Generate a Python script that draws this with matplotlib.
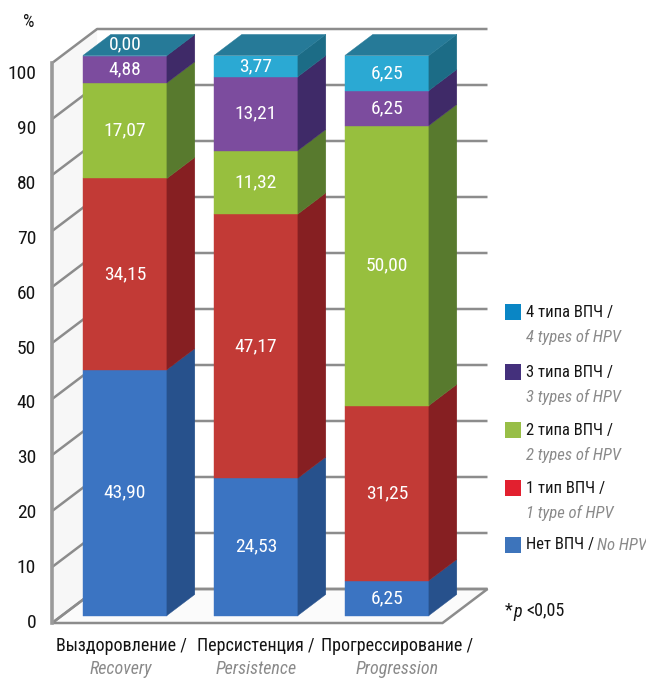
import matplotlib.pyplot as plt
from matplotlib import font_manager
from matplotlib.patches import Polygon, Rectangle

# stacked shares (%) per outcome, bottom to top
groups = ['Выздоровление /', 'Персистенция /', 'Прогрессирование /']
groups_en = ['Recovery', 'Persistence', 'Progression']
no_hpv = [43.90, 24.53, 6.25]
one_type = [34.15, 47.17, 31.25]
two_types = [17.07, 11.32, 50.00]
three_types = [4.88, 13.21, 6.25]
four_types = [0.00, 3.77, 6.25]

series = [no_hpv, one_type, two_types, three_types, four_types]
legend_ru = ['Нет ВПЧ /', '1 тип ВПЧ /', '2 типа ВПЧ /', '3 типа ВПЧ /', '4 типа ВПЧ /']
legend_en = ['No HPV', '1 type of HPV', '2 types of HPV', '3 types of HPV', '4 types of HPV']
yticks = list(range(0, 101, 10))

# front / side face colours of the 3d boxes, legend swatches
front = ['#3b74c2', '#c23a36', '#97bf3e', '#7c4c9e', '#2ba9d3']
side = ['#27518c', '#861f22', '#587a2e', '#3f2a68', '#1c6c86']
top_col = '#267a98'
swatch = ['#3d74bb', '#e2202f', '#98be47', '#44307c', '#0a86c5']

# prefer a narrow face if one is installed
installed = {f.name for f in font_manager.fontManager.ttflist}
narrow = [n for n in ['Liberation Sans Narrow', 'Roboto Condensed', 'Noto Sans Condensed',
                      'Open Sans Condensed', 'Arial Narrow'] if n in installed]
if narrow:
    plt.rcParams['font.family'] = [narrow[0], 'DejaVu Sans']
    fs_num, fs_cat, fs_leg = 14, 13, 12
else:
    plt.rcParams['font.family'] = ['Liberation Sans', 'DejaVu Sans']
    fs_num, fs_cat, fs_leg = 12, 10.5, 10

W, H = 646, 678
fig = plt.figure(figsize=(W / 100, H / 100), dpi=100)
ax = fig.add_axes([0, 0, 1, 1])
ax.set_xlim(-115 / 131, (W - 115) / 131)
ax.set_ylim((623 - H) / 5.6, 623 / 5.6)
ax.axis('off')

DX, DY = 45 / 131, 34 / 5.6      # full floor depth
bw = 84 / 131                     # bar width
f0, f1 = 0.22, 0.84               # bar front / back depth
xl, xr = -0.48, 2.5               # floor extent
grid = '#8c8c8c'
ink = '#141414'
grey_txt = '#8a8a8a'


def P(x, v, d):
    return (x + d * DX, v + d * DY)


def fpx(x, y):
    return x / W, 1 - y / H


# floor and walls
ax.add_patch(Polygon([P(xl, 0, 0), P(xr, 0, 0), P(xr, 0, 1), P(xl, 0, 1)],
                     closed=True, fc='#fbfbfb', ec=grid, lw=1.8, zorder=1))
ax.add_patch(Polygon([P(xl, 0, 0), P(xl, 100, 0), P(xl, 100, 1), P(xl, 0, 1)],
                     closed=True, fc='#f7f7f7', ec='none', zorder=0))
for v in yticks:
    ax.plot(*zip(P(xl, v, 0), P(xl, v, 1), P(xr, v, 1)), color=grid, lw=1.8,
            solid_capstyle='butt', zorder=2)
ax.plot([xl, xl], [0, 100], color='#9a9a9a', lw=2.6, zorder=2)

# bars
for i in range(len(groups)):
    base = 0
    x0, x1 = i - bw / 2, i + bw / 2
    for k, vals in enumerate(series):
        v = vals[i]
        t = base + v
        ax.add_patch(Polygon([P(x0, base, f0), P(x1, base, f0), P(x1, t, f0), P(x0, t, f0)],
                             closed=True, fc=front[k], ec=front[k], lw=0.3, zorder=5))
        ax.add_patch(Polygon([P(x1, base, f0), P(x1, base, f1), P(x1, t, f1), P(x1, t, f0)],
                             closed=True, fc=side[k], ec=side[k], lw=0.3, zorder=5))
        cx, cy = P(i, (base + t) / 2, f0)
        if v == 0:
            cy += (f1 - f0) * DY * 0.55
        ax.text(cx, cy, f'{v:.2f}'.replace('.', ','), color='white', fontsize=fs_num,
                ha='center', va='center', zorder=7)
        base = t
    ax.add_patch(Polygon([P(x0, 100, f0), P(x1, 100, f0), P(x1, 100, f1), P(x0, 100, f1)],
                         closed=True, fc=top_col, ec=top_col, lw=0.3, zorder=6))

# y axis labels
for v in yticks:
    ax.text(-0.603, v * 0.98, str(v), ha='right', va='center', fontsize=fs_num, color=ink)
fig.text(*fpx(29, 22), '%', ha='center', va='center', fontsize=fs_cat, color=ink)

# category labels
for cx, ru, en in zip([121, 256, 397], groups, groups_en):
    fig.text(*fpx(cx, 646), ru, ha='center', va='center', fontsize=fs_cat, color=ink)
    fig.text(*fpx(cx, 669), en, ha='center', va='center', fontsize=fs_cat,
             color=grey_txt, style='italic')

# legend, top entry first
ys = [545, 488, 430, 372, 312]
for k in range(len(series)):
    y = ys[k]
    fig.patches.append(Rectangle(fpx(505, y + 8), 16 / W, 16 / H, fc=swatch[k], ec='none',
                                 transform=fig.transFigure, figure=fig))
    t = fig.text(*fpx(526, y), legend_ru[k], ha='left', va='center', fontsize=fs_leg,
                 color=ink)
    if k == 0:
        fig.canvas.draw()
        bb = t.get_window_extent()
        fig.text(bb.x1 / W + 3 / W, 1 - y / H, legend_en[k], ha='left', va='center',
                 fontsize=fs_leg, color=grey_txt, style='italic')
    else:
        fig.text(*fpx(526, y + 25), legend_en[k], ha='left', va='center',
                 fontsize=fs_leg, color=grey_txt, style='italic')

fig.text(*fpx(505, 610), '*', ha='left', va='center', fontsize=fs_cat, color=ink)
fig.text(*fpx(513, 612), 'p', ha='left', va='center', fontsize=fs_cat, color=ink,
         style='italic')
fig.text(*fpx(526, 610), '<0,05', ha='left', va='center', fontsize=fs_cat, color=ink)

fig.savefig('out.png', dpi=100)
